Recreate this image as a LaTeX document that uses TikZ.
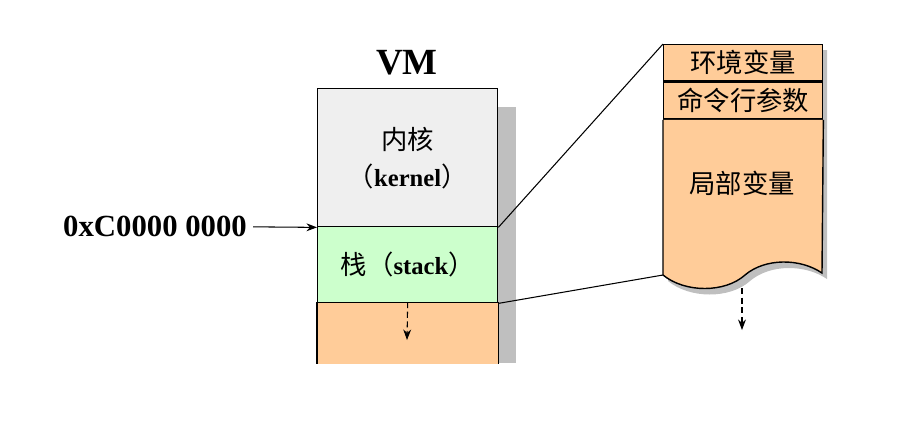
\documentclass[tikz,border=0pt]{standalone}
\usepackage{fontspec}
\setmainfont{Liberation Serif}
\newfontfamily\cjk{Noto Sans CJK SC}
\usetikzlibrary{calc,arrows.meta}
\definecolor{kernelgray}{HTML}{EFEFEF}
\definecolor{stackgreen}{HTML}{CCFFCC}
\definecolor{memorange}{HTML}{FFCC99}
\definecolor{shadowgray}{HTML}{BFBFBF}
\tikzstyle{vmbox} = [rectangle, anchor=north west, inner sep=0pt, minimum width=3.6cm, line width=0.8pt, align=center, font=\fontsize{15}{21}\selectfont]
\tikzstyle{frame} = [rectangle, anchor=north west, inner sep=0pt, minimum width=3.18cm, line width=0.8pt, draw=black, fill=memorange, font=\fontsize{15}{17}\selectfont]
\tikzstyle{arrow} = [line width=0.6pt,->,>={Stealth[length=6pt,width=4.5pt]}]
\tikzstyle{dasharrow} = [line width=0.6pt,dash pattern=on 3.5pt off 2pt,->,>={Stealth[length=6pt,width=4.5pt]}]

\begin{document}
\begin{tikzpicture}[x=0.02cm,y=-0.02cm]
\useasboundingbox (0,0) rectangle (914,424);
% shadows
\fill[shadowgray] (497,107) rectangle (516,363);
\fill[shadowgray, shift={(5,6)}] (663,44) -- (822,44) -- (822,273)
  .. controls (800,258) and (765,258) .. (745,275)
  .. controls (725,293) and (685,293) .. (663,275) -- cycle;
% VM column
\node (title) at (407,63) {\bfseries\fontsize{21}{25}\selectfont VM};
\node (kernel) [vmbox, draw=black, fill=kernelgray, minimum height=2.76cm] at (317,88) {{\cjk 内核}\\{\cjk （}\textbf{\fontsize{14}{21}\selectfont kernel}{\cjk ）}};
\node (heap) [vmbox, fill=memorange, minimum height=1.22cm] at (317,302) {};
\node (stack) [vmbox, draw=black, fill=stackgreen, minimum height=1.52cm] at (317,226) {{\cjk 栈（}\textbf{\fontsize{14}{21}\selectfont stack}{\cjk ）}};
\draw[line width=0.8pt] (heap.north west) -- (heap.south west);
\draw[line width=0.8pt] (heap.north east) -- (heap.south east);
\coordinate (heapend) at (407,340);
\draw [dasharrow] (heap.north) -- (heapend);
% address
\node (addr) at (155,226) {\bfseries\fontsize{17.5}{20}\selectfont 0xC0000 0000};
\draw [arrow] (addr) -- (kernel.south west);
% stack frame
\node (env) [frame, minimum height=0.72cm] at (663,44) {\cjk 环境变量};
\node (args) [frame, minimum height=0.74cm] at (env.south west) {\cjk 命令行参数};
\coordinate (wavel) at (663,275);
\coordinate (waver) at (822,273);
\filldraw[fill=memorange, line width=0.8pt] (args.south west) -- (wavel)
  .. controls (685,293) and (725,293) .. (745,275)
  .. controls (765,258) and (800,258) .. (waver) -- (args.south east);
\node (locals) at (742,183) {\fontsize{15}{17}\selectfont\cjk 局部变量};
\coordinate (lstart) at (742,288);
\coordinate (lend) at (742,330);
\draw [dasharrow] (lstart) -- (lend);
% links
\draw [line width=0.6pt] (kernel.south east) -- (env.north west);
\draw [line width=0.6pt] (stack.south east) -- (wavel);
\end{tikzpicture}
\end{document}
